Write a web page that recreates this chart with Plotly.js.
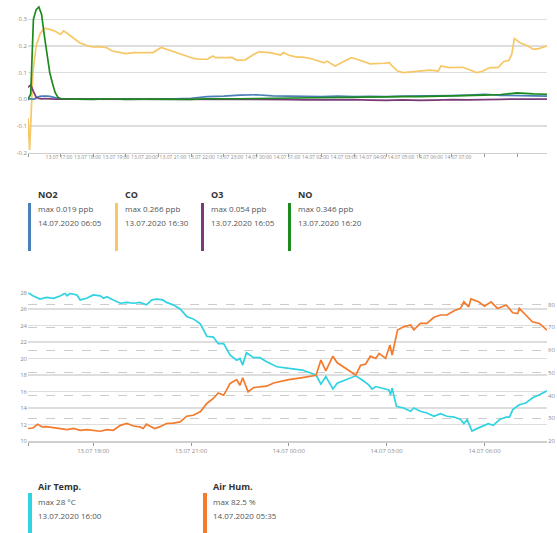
<!DOCTYPE html>
<html>
<head>
<meta charset="utf-8">
<script src="https://cdn.plot.ly/plotly-3.0.1.min.js"></script>
<style>html,body{margin:0;padding:0;background:#fff}#chart{width:557px;height:533px}</style>
</head>
<body>
<div id="chart"></div>
<script>
// ---------- DATA ----------
// Air quality (ppb) — top chart
const coTime = ['16:00','16:03','16:09','16:15','16:22','16:30','16:40','16:50','17:00','17:05',
  '17:10','17:25','17:35','17:50','18:00','18:10','18:25','18:35','18:50','19:00',
  '19:15','19:40','19:50','20:05','20:15','20:25','20:40','20:55','21:05','21:15',
  '21:30','21:40','21:45','22:05','22:15','22:25','22:40','22:55','23:05','23:25',
  '23:45','23:50','00:00','00:15','00:25','00:40','00:50','01:05','01:10','01:25',
  '01:40','01:55','02:05','02:15','02:30','02:55','03:05','03:10','03:20','03:30',
  '03:45','04:05','04:20','04:35','04:40','04:55','05:20','05:35','05:45','05:55',
  '06:10','06:25','06:35','06:45','06:50','06:55','07:05','07:20','07:30','07:40',
  '07:55'];
const coVal = [-0.07,-0.19,0.10,0.20,0.245,0.266,0.262,0.255,0.243,0.256,
  0.25,0.227,0.212,0.20,0.196,0.197,0.193,0.181,0.175,0.171,
  0.175,0.176,0.175,0.194,0.187,0.178,0.168,0.158,0.153,0.15,
  0.15,0.162,0.156,0.156,0.157,0.146,0.148,0.168,0.178,0.175,
  0.166,0.175,0.165,0.158,0.158,0.153,0.146,0.137,0.143,0.125,
  0.141,0.156,0.15,0.143,0.133,0.135,0.137,0.125,0.106,0.100,
  0.103,0.106,0.109,0.106,0.125,0.119,0.12,0.109,0.100,0.104,
  0.119,0.119,0.141,0.146,0.168,0.228,0.212,0.20,0.187,0.19,
  0.20];

const gasTime = ['16:00','16:05','16:10','16:15','16:20','16:25','16:30','16:35','16:40','16:45',
  '16:50','16:55','17:00','17:30','18:00','18:30','19:00','19:30','20:00','20:30',
  '21:00','21:30','22:00','22:30','23:00','23:30','00:00','00:30','01:00','01:30',
  '02:00','02:30','03:00','03:30','04:00','04:30','05:00','05:30','06:00','06:30',
  '07:00','07:30','07:55'];
const no2Val = [0.0,0.002,0.0,0.006,0.01,0.012,0.013,0.012,0.011,0.008,
  0.006,0.004,0.003,0.003,0.002,0.002,0.002,0.001,0.002,0.002,
  0.004,0.01,0.012,0.016,0.017,0.013,0.012,0.01,0.01,0.012,
  0.01,0.011,0.01,0.012,0.012,0.013,0.014,0.016,0.019,0.015,
  0.014,0.013,0.012];
const o3Val = [0.045,0.054,0.03,0.008,0.004,0.002,0.003,0.002,0.003,0.002,
  0.001,0.001,0.001,0.001,0.0,0.0,0.001,0.0,0.0,-0.001,
  0.0,0.0,0.0,0.0,0.0,-0.001,-0.001,-0.002,-0.001,-0.002,
  -0.001,-0.003,-0.004,-0.002,-0.004,-0.003,-0.001,-0.002,0.0,0.0,
  0.001,0.001,0.001];
const noVal = [0.0,0.02,0.30,0.336,0.346,0.318,0.24,0.16,0.10,0.06,
  0.025,0.008,0.002,0.001,0.0,0.002,0.0,0.001,0.0,0.001,
  0.0,0.002,0.001,0.002,0.003,0.004,0.005,0.006,0.006,0.007,
  0.008,0.008,0.009,0.01,0.01,0.011,0.012,0.013,0.016,0.018,
  0.024,0.02,0.019];

const gasNames = ['NO2','CO','O3','NO'];
const gasMax = ['max 0.019 ppb','max 0.266 ppb','max 0.054 ppb','max 0.346 ppb'];
const gasMaxTime = ['14.07.2020 06:05','13.07.2020 16:30','13.07.2020 16:05','13.07.2020 16:20'];
const gasColors = ['#4a7fb8','#f7c766','#7a3b7a','#1d8a1d'];

const gasTickTimes = ['17:00','18:00','19:00','20:00','21:00','22:00','23:00','00:00','01:00','02:00',
  '03:00','04:00','05:00','06:00','07:00'];
const gasTickLabels = ['13.07 17:00','13.07 18:00','13.07 19:00','13.07 20:00','13.07 21:00','13.07 22:00',
  '13.07 23:00','14.07 00:00','14.07 01:00','14.07 02:00','14.07 03:00','14.07 04:00','14.07 05:00',
  '14.07 06:00','14.07 07:00'];
const gasTickMarks = ['16:00','17:00','18:00','19:00','20:00','21:00','22:00','23:00','00:00','01:00',
  '02:00','03:00','04:00','05:00','06:00','07:00'];
const gasYTicks = [-0.2,-0.1,0.0,0.1,0.2,0.3];
const gasYLabels = ['-0.2','-0.1','0.0','0.1','0.2','0.3'];

// Weather — bottom chart
const tempTime = ['16:00','16:09','16:22','16:34','16:47','17:00','17:08','17:12','17:17','17:30',
  '17:36','17:48','18:00','18:13','18:19','18:25','18:37','18:50','19:02','19:14',
  '19:26','19:38','19:48','19:57','20:08','20:15','20:27','20:40','20:52','21:04',
  '21:17','21:29','21:41','21:50','22:00','22:12','22:24','22:30','22:35','22:42',
  '22:55','23:07','23:19','23:38','00:00','00:25','00:50','00:59','01:08','01:21',
  '01:29','01:45','02:03','02:15','02:27','02:33','02:40','02:52','03:04','03:07',
  '03:10','03:18','03:31','03:44','03:50','04:02','04:14','04:27','04:39','04:51',
  '05:04','05:16','05:22','05:28','05:37','05:46','05:58','06:07','06:16','06:28',
  '06:40','06:46','06:52','07:04','07:16','07:28','07:41','07:55'];
const tempVal = [28.0,27.6,27.2,27.4,27.3,27.6,27.9,27.6,27.9,27.7,
  27.1,27.3,27.7,27.6,27.3,27.5,27.1,26.7,26.8,26.7,
  26.8,26.5,27.1,27.2,27.1,26.8,26.5,26.0,25.1,24.8,
  24.2,22.7,22.6,21.8,21.8,20.4,19.8,20.0,19.2,20.7,
  20.1,20.1,19.6,19.0,18.8,18.6,18.0,16.9,17.8,16.3,
  17.0,17.4,17.9,17.4,16.8,16.3,16.6,16.4,16.2,15.6,
  16.4,14.2,14.0,13.6,14.0,13.6,13.4,13.0,13.3,13.0,
  12.9,12.6,12.1,12.6,11.2,11.5,11.9,12.1,11.9,12.6,
  12.9,12.9,13.8,14.4,14.6,15.2,15.6,16.1];

const humTime = ['16:00','16:09','16:18','16:26','16:34','16:47','17:00','17:12','17:24','17:36',
  '17:48','18:00','18:13','18:25','18:37','18:50','19:02','19:14','19:26','19:32',
  '19:38','19:44','19:53','20:02','20:15','20:27','20:40','20:52','21:04','21:17',
  '21:29','21:41','21:50','22:00','22:12','22:24','22:30','22:35','22:45','22:55',
  '23:07','23:19','23:32','00:00','00:25','00:50','00:59','01:08','01:21','01:29',
  '01:45','02:03','02:12','02:21','02:30','02:40','02:46','02:58','03:06','03:10',
  '03:20','03:31','03:44','03:50','04:02','04:14','04:27','04:39','04:51','05:04',
  '05:16','05:22','05:31','05:35','05:49','06:00','06:12','06:24','06:40','06:52',
  '07:01','07:04','07:16','07:28','07:41','07:55'];
const humVal = [25.5,25.7,27.4,26.2,26.3,25.9,25.7,25.0,25.5,24.7,
  25.0,24.7,24.3,25.0,24.7,26.9,27.7,26.6,26.2,25.5,
  27.4,26.6,25.5,26.2,27.7,27.9,28.4,30.9,31.3,32.8,
  36.5,38.7,41.1,40.1,45.3,47.0,44.5,47.8,41.6,43.5,
  43.8,44.1,45.5,47.0,47.9,48.9,55.6,50.8,57.3,54.4,
  51.9,48.9,53.3,53.8,57.3,56.3,58.5,56.3,62.2,57.8,
  68.8,70.2,71.0,68.8,71.7,71.7,74.4,75.4,75.4,77.3,
  78.3,81.2,79.0,82.5,81.2,79.3,81.2,78.3,79.8,76.4,
  76.0,78.3,75.4,72.4,71.7,68.8];

const wxNames = ['Air Temp.','Air Hum.'];
const wxMax = ['max 28 °C','max 82.5 %'];
const wxMaxTime = ['13.07.2020 16:00','14.07.2020 05:35'];
const wxColors = ['#2fd3e2','#f47a2c'];
const wxTickTimes = ['16:00','18:00','21:00','00:00','03:00','06:00'];
const wxTickLabels = ['','13.07 18:00','13.07 21:00','14.07 00:00','14.07 03:00','14.07 06:00'];
const tempTicks = [10,12,14,16,18,20,22,24,26,28];
const humTicks = [20,30,40,50,60,70,80];

// ---------- HELPERS ----------
function ts(hm){ const h = parseInt(hm.slice(0,2),10); return (h >= 12 ? '2020-07-13 ' : '2020-07-14 ') + hm; }
const T = a => a.map(ts);

const W = 557, H = 533;
const px = x => x / W;
const py = y => 1 - y / H;
const xDom = [px(28), px(547)];
const FONT = '"Open Sans", "Segoe UI", "Liberation Sans", sans-serif';
const tickFont = {family: FONT, size: 6, color: '#8a8a8a'};
const smallTickFont = {family: FONT, size: 5, color: '#8a8a8a'};

// ---------- TRACES ----------
const lw = 1.7;
const traces = [
  {x: T(coTime), y: coVal, name: 'CO', line: {color: gasColors[1], width: lw}},
  {x: T(gasTime), y: no2Val, name: 'NO2', line: {color: gasColors[0], width: lw}},
  {x: T(gasTime), y: o3Val, name: 'O3', line: {color: gasColors[2], width: lw}},
  {x: T(gasTime), y: noVal, name: 'NO', line: {color: gasColors[3], width: lw}},
  {x: [], y: [], xaxis: 'x3', yaxis: 'y', showlegend: false},
  {x: T(tempTime), y: tempVal, name: 'Air Temp.', xaxis: 'x2', yaxis: 'y2', line: {color: wxColors[0], width: lw}},
  {x: T(humTime), y: humVal, name: 'Air Hum.', xaxis: 'x2', yaxis: 'y3', line: {color: wxColors[1], width: lw}}
].map(t => Object.assign({type: 'scatter', mode: 'lines', hoverinfo: 'skip'}, t));

// ---------- LEGEND (custom) ----------
const annotations = [];
const shapes = [];
const titleFont = {family: FONT, size: 9, color: '#333'};
const bodyFont = {family: FONT, size: 8, color: '#555'};
function legendItem(x0, barTop, barBot, titleY, l1Y, l2Y, color, title, l1, l2, bw) {
  shapes.push({type: 'rect', xref: 'paper', yref: 'paper', x0: px(x0), x1: px(x0 + bw), y0: py(barBot), y1: py(barTop),
    fillcolor: color, line: {width: 0}});
  [[titleY, '<b>' + title + '</b>', titleFont], [l1Y, l1, bodyFont], [l2Y, l2, bodyFont]].forEach(([y, t, f]) => {
    annotations.push({xref: 'paper', yref: 'paper', x: px(x0 + 8), y: py(y), xanchor: 'left', yanchor: 'middle',
      text: t, showarrow: false, font: f});
  });
}
const gasLegX = [28, 115, 201, 288];
gasNames.forEach((n, i) => legendItem(gasLegX[i], 203, 251, 194, 209, 222.5, gasColors[i], n, gasMax[i], gasMaxTime[i], 3));
const wxLegX = [28, 203];
wxNames.forEach((n, i) => legendItem(wxLegX[i], 493, 533, 486, 501, 515.5, wxColors[i], n, wxMax[i], wxMaxTime[i], 4));

// ---------- LAYOUT ----------
const gridCol = '#dedede';
const layout = {
  width: W, height: H,
  margin: {l: 0, r: 0, t: 0, b: 0, pad: 0},
  paper_bgcolor: '#fff', plot_bgcolor: '#fff',
  showlegend: false,
  font: {family: FONT},
  xaxis: {
    domain: xDom, anchor: 'y', type: 'date',
    range: ['2020-07-13 16:00', '2020-07-14 07:55'],
    tickmode: 'array', tickvals: T(gasTickMarks), showticklabels: false,
    ticks: 'outside', ticklen: 3, tickcolor: '#999', tickwidth: 1,
    showgrid: false, showline: true, linecolor: '#cfcfcf', linewidth: 1.5, zeroline: false
  },
  xaxis3: {
    overlaying: 'x', anchor: 'y', side: 'bottom', type: 'date',
    range: ['2020-07-13 15:54:44', '2020-07-14 10:07:22'],
    tickmode: 'array', tickvals: T(gasTickTimes), ticktext: gasTickLabels,
    ticks: '', showgrid: false, showline: false, zeroline: false,
    tickfont: smallTickFont, tickangle: 0
  },
  yaxis: {
    domain: [py(152.7), py(3.2)], anchor: 'x',
    range: [-0.2, 0.36],
    tickmode: 'array', tickvals: gasYTicks, ticktext: gasYLabels,
    showgrid: true, gridcolor: gridCol, gridwidth: 1.3, zeroline: false, showline: false,
    ticks: '', tickfont: tickFont
  },
  xaxis2: {
    domain: xDom, anchor: 'y2', type: 'date',
    range: ['2020-07-13 16:00', '2020-07-14 07:55'],
    tickmode: 'array', tickvals: T(wxTickTimes), ticktext: wxTickLabels,
    ticks: 'outside', ticklen: 3, tickcolor: '#999', tickwidth: 1,
    showgrid: false, showline: true, linecolor: '#cfcfcf', linewidth: 1.5, zeroline: false,
    tickfont: tickFont, tickangle: 0
  },
  yaxis2: {
    domain: [py(441), py(292.5)], anchor: 'x2',
    range: [10, 28],
    tickmode: 'array', tickvals: tempTicks,
    showgrid: true, gridcolor: gridCol, gridwidth: 1.3, zeroline: false, showline: false,
    ticks: '', tickfont: tickFont
  },
  yaxis3: {
    overlaying: 'y2', side: 'right', anchor: 'x2',
    range: [20, 85.3],
    tickmode: 'array', tickvals: humTicks,
    showgrid: true, gridcolor: '#cccccc', gridwidth: 1, griddash: 'dash', zeroline: false, showline: false,
    ticks: '', tickfont: tickFont
  },
  annotations: annotations,
  shapes: shapes
};

Plotly.newPlot('chart', traces, layout, {displayModeBar: false, staticPlot: true});
</script>
</body>
</html>
